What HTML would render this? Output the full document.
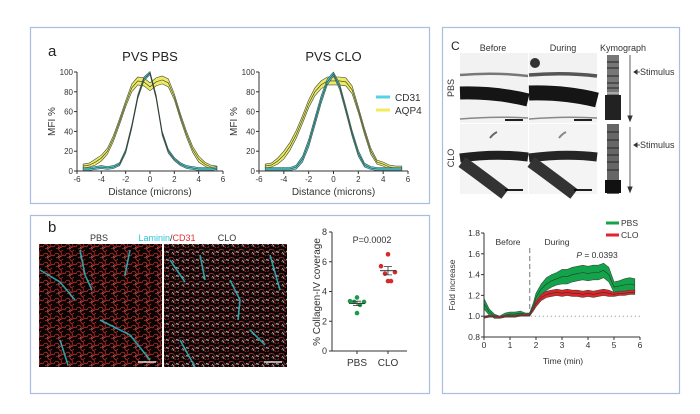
<!DOCTYPE html>
<html><head><meta charset="utf-8">
<style>
html,body{margin:0;padding:0;background:#fff;width:700px;height:414px;overflow:hidden}
svg{display:block;font-family:"Liberation Sans",Arial,sans-serif}
</style></head>
<body>
<svg id="fig" width="700" height="414" viewBox="0 0 700 414" xmlns="http://www.w3.org/2000/svg">
<defs>
<pattern id="vessels" width="11" height="9" patternUnits="userSpaceOnUse">
<rect width="11" height="9" fill="#0a0505"/>
<path d="M0 2 Q3 0 4 3 T8 3 Q10 5 11 2 M1 6 Q3 4 4 7 T8 7 M6 0 Q7 3 5 5" stroke="#d8302c" stroke-width="0.7" fill="none"/>
<path d="M3 4 Q5 5 4 6" stroke="#c9d9dc" stroke-width="0.5" fill="none"/>
</pattern>
<pattern id="vessels2" width="10" height="8" patternUnits="userSpaceOnUse">
<rect width="10" height="8" fill="#080606"/>
<path d="M0 2 Q3 0 4 3 T8 3 Q9 4 10 1 M1 6 Q3 4 5 7 T9 6" stroke="#cf3a36" stroke-width="0.6" fill="none"/>
<path d="M2 4 Q4 5 3 7 M6 3 Q8 5 9 4" stroke="#d5e2e4" stroke-width="0.6" fill="none"/>
</pattern>
</defs>
<rect width="700" height="414" fill="#fff"/>
<rect x="30.5" y="27.5" width="399" height="176" fill="none" stroke="#a7bde3" stroke-width="1.2"/>
<rect x="30.5" y="215.5" width="399" height="178" fill="none" stroke="#a7bde3" stroke-width="1.2"/>
<rect x="442.5" y="27.5" width="237" height="366" fill="none" stroke="#a7bde3" stroke-width="1.2"/>

<text x="48" y="56" font-size="15" fill="#222">a</text>
<text x="48" y="232" font-size="15" fill="#222">b</text>
<text x="451" y="50" font-size="12" fill="#222">C</text>

<g id="plotA1"></g>
<g id="plotA2"></g>

<g>
<line x1="376" y1="97" x2="390" y2="97" stroke="#55d3e6" stroke-width="3"/>
<text x="395" y="101" font-size="10" fill="#333">CD31</text>
<line x1="376" y1="110" x2="390" y2="110" stroke="#f2ec5c" stroke-width="3"/>
<text x="395" y="114" font-size="10" fill="#333">AQP4</text>
</g>

<text x="99" y="241" font-size="9" text-anchor="middle" fill="#333">PBS</text>
<text x="167" y="241" font-size="9" text-anchor="middle"><tspan fill="#2ec4d8">Laminin</tspan><tspan fill="#333">/</tspan><tspan fill="#e0302c">CD31</tspan></text>
<text x="227" y="241" font-size="9" text-anchor="middle" fill="#333">CLO</text>
<g>
<rect x="39" y="244" width="123" height="123" fill="url(#vessels)"/>
<path d="M40 270 L60 282 L75 300 M80 250 L85 275 L92 290 M130 250 L125 275 M100 320 L130 335 L150 360 M60 340 L68 365" stroke="#2fc3cc" stroke-width="1.6" fill="none" opacity="0.8"/>
<line x1="138" y1="362" x2="156" y2="362" stroke="#ddd" stroke-width="1.5"/>
</g>
<g>
<rect x="164" y="244" width="123" height="123" fill="url(#vessels2)"/>
<path d="M170 260 L185 282 M200 255 L205 280 M230 280 L240 300 L238 320 M270 255 L280 290 M180 340 L195 367 M250 330 L265 345" stroke="#2fc3cc" stroke-width="1.6" fill="none" opacity="0.8"/>
<line x1="264" y1="362" x2="282" y2="362" stroke="#ddd" stroke-width="1.5"/>
</g>
<g id="plotB"></g>

<text x="493" y="51" font-size="9" text-anchor="middle" fill="#333">Before</text>
<text x="563" y="51" font-size="9" text-anchor="middle" fill="#333">During</text>
<text x="623" y="51" font-size="9" text-anchor="middle" fill="#333">Kymograph</text>
<text transform="translate(454,88) rotate(-90)" font-size="9" text-anchor="middle" fill="#333">PBS</text>
<text transform="translate(454,158) rotate(-90)" font-size="9" text-anchor="middle" fill="#333">CLO</text>
<g>
<rect x="460" y="53" width="68" height="70" fill="#f2f2f2"/>
<path d="M460 75 Q495 72 528 76" stroke="#777" stroke-width="2.5" fill="none"/>
<path d="M460 93 Q495 92 528 100" stroke="#151515" stroke-width="13" fill="none"/>
<path d="M460 119 Q495 116 528 118" stroke="#888" stroke-width="1.5" fill="none"/>
<line x1="505" y1="120" x2="523" y2="120" stroke="#000" stroke-width="1.8"/>
</g>
<g>
<rect x="529" y="53" width="68" height="70" fill="#f2f2f2"/>
<circle cx="535" cy="63" r="5" fill="#333"/>
<path d="M529 75 Q565 72 597 76" stroke="#555" stroke-width="3.5" fill="none"/>
<path d="M529 93 Q565 92 597 100" stroke="#151515" stroke-width="15" fill="none"/>
<path d="M529 119 Q565 116 597 118" stroke="#888" stroke-width="1.5" fill="none"/>
<line x1="574" y1="120" x2="592" y2="120" stroke="#000" stroke-width="1.8"/>
</g>
<g>
<rect x="460" y="124" width="68" height="70" fill="#f4f4f4"/>
<path d="M460 158 Q495 153 528 157" stroke="#202020" stroke-width="9" fill="none"/>
<path d="M462 162 Q480 175 505 194" stroke="#333" stroke-width="12" fill="none"/>
<path d="M490 138 Q493 134 497 132" stroke="#666" stroke-width="2" fill="none"/>
<line x1="505" y1="190" x2="523" y2="190" stroke="#000" stroke-width="1.8"/>
</g>
<g>
<rect x="529" y="124" width="68" height="70" fill="#f4f4f4"/>
<path d="M529 158 Q565 153 597 157" stroke="#252525" stroke-width="9" fill="none"/>
<path d="M531 162 Q549 175 574 194" stroke="#333" stroke-width="12" fill="none"/>
<path d="M559 138 Q562 134 566 132" stroke="#888" stroke-width="2" fill="none"/>
<line x1="574" y1="190" x2="592" y2="190" stroke="#000" stroke-width="1.8"/>
</g>
<g>
<rect x="607" y="55" width="12" height="65" fill="#777"/>
<rect x="605" y="95" width="16" height="25" fill="#222"/>
<rect x="607" y="124" width="12" height="70" fill="#666"/>
<rect x="605" y="180" width="16" height="13" fill="#111"/>
<path d="M607 62H619M607 68H619M607 76H619M607 83H619M607 88H619M607 132H619M607 140H619M607 148H619M607 155H619M607 162H619M607 170H619" stroke="#333" stroke-width="1.3"/>
<line x1="605" y1="93" x2="624" y2="93" stroke="#fff" stroke-width="0.8"/>
</g>
<g stroke="#333" fill="#333">
<line x1="630" y1="55" x2="630" y2="118" stroke-width="0.8"/>
<path d="M628 116 L630 121 L632 116Z"/>
<line x1="630" y1="127" x2="630" y2="189" stroke-width="0.8"/>
<path d="M628 187 L630 192 L632 187Z"/>
<line x1="634" y1="72" x2="640" y2="72" stroke-width="0.8"/>
<path d="M634 72 L637 70 L637 74Z"/>
<line x1="634" y1="145" x2="640" y2="145" stroke-width="0.8"/>
<path d="M634 145 L637 143 L637 147Z"/>
</g>
<text x="640" y="75" font-size="9" fill="#333">Stimulus</text>
<text x="640" y="148" font-size="9" fill="#333">Stimulus</text>

<g id="plotC"></g>
</svg>
<script>
const distA = [-5.5,-5,-4.5,-4,-3.5,-3,-2.5,-2,-1.5,-1,-0.5,0,0.5,1,1.5,2,2.5,3,3.5,4,4.5,5,5.5];
const pbsAqp4 = [5,6,9,13,20,33,50,68,84,91,90,85,90,92,89,75,55,37,22,12,7,4,3];
const pbsAqp4Err = [2,2,3,3,3,3,3,3,4,4,4,4,4,4,4,3,3,3,3,3,2,2,2];
const pbsCd31 = [2,2,3,4,3,4,7,20,45,75,93,99,75,38,20,12,7,4,3,2,2,2,3];
const pbsCd31Err = [1.5,1.5,1.5,1.5,1.5,1.5,1.5,2,2,2,2,1.5,2,2,2,1.5,1.5,1.5,1.5,1.5,1.5,1.5,1.5];
const cloAqp4 = [5,6,10,16,25,37,52,68,80,87,91,91,91,90,82,62,40,20,9,7,4,3,3];
const cloAqp4Err = [2,2,3,4,4,4,4,4,4,4,4,4,4,4,4,3,3,3,2,2,2,2,2];
const cloCd31 = [2,2,2,2,2,4,12,28,50,72,90,98,85,62,38,18,6,3,2,2,2,2,2];
const cloCd31Err = [1.5,1.5,1.5,1.5,1.5,2,3,4,4,4,3,2,3,3,3,3,2,1.5,1.5,1.5,1.5,1.5,1.5];
const xTicksA = [-6,-4,-2,0,2,4,6];
const yTicksA = [0,20,40,60,80,100];
const groupsB = ["PBS","CLO"];
const pbsPoints = [3.6,3.35,3.3,3.3,3.1,2.55];
const cloPoints = [6.5,5.7,5.3,5.2,4.7,4.7];
const meansB = [3.2,5.4];
const semB = [0.15,0.28];
const yTicksB = [0,2,4,6,8];
const timeC = [0,0.2,0.4,0.6,0.8,1.0,1.2,1.4,1.6,1.75,1.9,2.0,2.2,2.4,2.6,2.8,3.0,3.2,3.4,3.6,3.8,4.0,4.2,4.4,4.6,4.8,5.0,5.2,5.4,5.6,5.8];
const pbsFold = [1.12,1.04,1.0,0.99,1.01,1.02,1.02,1.03,1.02,1.02,1.1,1.18,1.26,1.31,1.34,1.36,1.38,1.38,1.40,1.41,1.42,1.41,1.42,1.42,1.44,1.40,1.28,1.29,1.30,1.31,1.30];
const pbsFoldErr = [0.05,0.03,0.02,0.01,0.02,0.02,0.02,0.02,0.01,0.01,0.03,0.04,0.05,0.06,0.06,0.06,0.07,0.07,0.07,0.07,0.07,0.07,0.07,0.07,0.07,0.07,0.05,0.05,0.06,0.06,0.06];
const cloFold = [0.99,1.0,1.0,0.99,1.0,1.0,1.0,1.01,1.01,1.01,1.07,1.12,1.18,1.21,1.22,1.23,1.22,1.23,1.22,1.22,1.21,1.22,1.21,1.22,1.23,1.22,1.21,1.22,1.22,1.23,1.23];
const cloFoldErr = [0.01,0.01,0.01,0.01,0.01,0.01,0.01,0.01,0.01,0.01,0.02,0.03,0.03,0.03,0.03,0.03,0.03,0.03,0.03,0.03,0.03,0.03,0.03,0.03,0.03,0.03,0.02,0.02,0.02,0.02,0.02];
const xTicksC = [0,1,2,3,4,5,6];
const yTicksC = [0.8,1.0,1.2,1.4,1.6,1.8];
const yTickLabelsC = ["0.8","1.0","1.2","1.4","1.6","1.8"];
const stimulusTime = 1.76;

const NS = "http://www.w3.org/2000/svg";
function mk(parent, tag, attrs, text){
  const el = document.createElementNS(NS, tag);
  for (const k in attrs) el.setAttribute(k, attrs[k]);
  if (text !== undefined) el.textContent = text;
  parent.appendChild(el);
  return el;
}
function band(g, xs, ys, es, sx, sy, fill, name){
  let d = "";
  xs.forEach((x,i)=>{ d += (i?"L":"M")+sx(x).toFixed(1)+" "+sy(ys[i]+es[i]).toFixed(1); });
  for (let i=xs.length-1;i>=0;i--) d += "L"+sx(xs[i]).toFixed(1)+" "+sy(ys[i]-es[i]).toFixed(1);
  d += "Z";
  const p = mk(g,"path",{d:d, fill:fill, stroke:"#3c4a3c", "stroke-width":"0.6"});
  
  
  let m = "";
  xs.forEach((x,i)=>{ m += (i?"L":"M")+sx(x).toFixed(1)+" "+sy(ys[i]).toFixed(1); });
  const l = mk(g,"path",{d:m, fill:"none", stroke:"#2a3a2a", "stroke-width":"0.6"});
  
  
}

function plotA(gid, title, aq, aqE, cd, cdE, x0, x1, y0, y1, tx){
  const g = document.getElementById(gid);
  const sx = v => x0 + (v+6)/12*(x1-x0);
  const sy = v => y1 - v/100*(y1-y0);
  const t = mk(g,"text",{x:(x0+x1)/2, y:61, "font-size":"13", "text-anchor":"middle", fill:"#222"}, title);
  
  
  band(g, distA, aq, aqE, sx, sy, "#efe964", "aqp4");
  band(g, distA, cd, cdE, sx, sy, "#4fd0dc", "cd31");
  const ax = mk(g,"path",{d:`M${x0} ${y0} V${y1} H${x1}`, fill:"none", stroke:"#333", "stroke-width":"1"});
  
  
  yTicksA.forEach(v=>{
    mk(g,"line",{x1:x0-3,x2:x0,y1:sy(v),y2:sy(v),stroke:"#333"});
    const tl = mk(g,"text",{x:x0-4,y:sy(v)+3,"font-size":"8","text-anchor":"end",fill:"#333"}, v);
    
    
  });
  xTicksA.forEach(v=>{
    mk(g,"line",{x1:sx(v),x2:sx(v),y1:y1,y2:y1+3,stroke:"#333"});
    const tl = mk(g,"text",{x:sx(v),y:y1+11,"font-size":"8","text-anchor":"middle",fill:"#333"}, v);
    
    
  });
  const xl = mk(g,"text",{x:(x0+x1)/2,y:195,"font-size":"10","text-anchor":"middle",fill:"#333"},"Distance (microns)");
  
  
  const yl = mk(g,"text",{transform:`translate(${tx},${(y0+y1)/2}) rotate(-90)`,"font-size":"10","text-anchor":"middle",fill:"#333"},"MFI %");
  
  
}
plotA("plotA1","PVS PBS",pbsAqp4,pbsAqp4Err,pbsCd31,pbsCd31Err,77,223,72,171,55);
plotA("plotA2","PVS CLO",cloAqp4,cloAqp4Err,cloCd31,cloCd31Err,259,408,72,171,237);

(function(){
  const g = document.getElementById("plotB");
  const x0=332, x1=407, y0=232, y1=351;
  const sy = v => y1 - v/8*(y1-y0);
  const gx = [357,388];
  mk(g,"path",{d:`M${x0} ${y0} V${y1} H${x1}`,fill:"none",stroke:"#333"});
  yTicksB.forEach(v=>{
    mk(g,"line",{x1:x0-3,x2:x0,y1:sy(v),y2:sy(v),stroke:"#333"});
    const tl = mk(g,"text",{x:x0-5,y:sy(v)+3,"font-size":"9","text-anchor":"end",fill:"#333"},v);
    
    
  });
  groupsB.forEach((n,i)=>{
    mk(g,"line",{x1:gx[i],x2:gx[i],y1:y1,y2:y1+3,stroke:"#333"});
    const tl = mk(g,"text",{x:gx[i],y:366,"font-size":"10","text-anchor":"middle",fill:"#333"},n);
    
    
  });
  const offs = [0,-7,7,-3,3,0];
  [pbsPoints,cloPoints].forEach((pts,i)=>{
    const col = i===0 ? "#1a9a4a" : "#d42a2a";
    pts.forEach((v,j)=>{
      const c = mk(g,"circle",{cx:gx[i]+offs[j%offs.length],cy:sy(v),r:2.3,fill:col});
      
      
    });
    const m = mk(g,"line",{x1:gx[i]-8,x2:gx[i]+8,y1:sy(meansB[i]),y2:sy(meansB[i]),stroke:"#333","stroke-width":"1"});
    
    
    mk(g,"path",{d:`M${gx[i]-4} ${sy(meansB[i]+semB[i])}H${gx[i]+4}M${gx[i]} ${sy(meansB[i]+semB[i])}V${sy(meansB[i]-semB[i])}M${gx[i]-4} ${sy(meansB[i]-semB[i])}H${gx[i]+4}`,stroke:"#333",fill:"none","stroke-width":"0.8"});
  });
  const p = mk(g,"text",{x:372,y:243,"font-size":"9","text-anchor":"middle",fill:"#333"},"P=0.0002");
  
  
  const yl = mk(g,"text",{transform:`translate(320,292) rotate(-90)`,"font-size":"10","text-anchor":"middle",fill:"#333"},"% Collagen-IV coverage");
  
  
})();

(function(){
  const g = document.getElementById("plotC");
  const x0=484, x1=640, y0=233, y1=337;
  const sx = v => x0 + v/6*(x1-x0);
  const sy = v => y1 - (v-0.8)/1.0*(y1-y0);
  const dl = mk(g,"line",{x1:sx(1.8),x2:sx(6),y1:sy(1.0),y2:sy(1.0),stroke:"#777","stroke-dasharray":"1 3","stroke-width":"0.9"});
  
  
  const sl = mk(g,"line",{x1:sx(stimulusTime),x2:sx(stimulusTime),y1:248,y2:sy(1.0),stroke:"#777","stroke-dasharray":"5 3","stroke-width":"1"});
  
  
  band(g, timeC, pbsFold, pbsFoldErr, sx, sy, "#13a34b", "pbs");
  band(g, timeC, cloFold, cloFoldErr, sx, sy, "#e3222a", "clo");
  mk(g,"path",{d:`M${x0} ${y0} V${y1} H${x1}`,fill:"none",stroke:"#333"});
  yTicksC.forEach((v,i)=>{
    mk(g,"line",{x1:x0-3,x2:x0,y1:sy(v),y2:sy(v),stroke:"#333"});
    const tl = mk(g,"text",{x:x0-4,y:sy(v)+3,"font-size":"8.5","text-anchor":"end",fill:"#333"},yTickLabelsC[i]);
    
    
  });
  xTicksC.forEach(v=>{
    mk(g,"line",{x1:sx(v),x2:sx(v),y1:y1,y2:y1+3,stroke:"#333"});
    const tl = mk(g,"text",{x:sx(v),y:y1+11,"font-size":"8.5","text-anchor":"middle",fill:"#333"},v);
    
    
  });
  const xl = mk(g,"text",{x:563,y:364,"font-size":"8.5","text-anchor":"middle",fill:"#333"},"Time (min)");
  
  
  const yl = mk(g,"text",{transform:`translate(455,285) rotate(-90)`,"font-size":"8.5","text-anchor":"middle",fill:"#333"},"Fold increase");
  
  
  const b = mk(g,"text",{x:508,y:245,"font-size":"8.5","text-anchor":"middle",fill:"#333"},"Before");
  
  
  const d = mk(g,"text",{x:557,y:245,"font-size":"8.5","text-anchor":"middle",fill:"#333"},"During");
  
  
  const p = mk(g,"text",{x:597,y:258,"font-size":"8.5","text-anchor":"middle",fill:"#333"});
  
  
  mk(p,"tspan",{"font-style":"italic"},"P");
  mk(p,"tspan",{}," = 0.0393");
  const l1 = mk(g,"line",{x1:606,x2:619,y1:223,y2:223,stroke:"#13a34b","stroke-width":"3"});
  
  
  const t1 = mk(g,"text",{x:621,y:226,"font-size":"8.5",fill:"#333"},"PBS");
  
  
  const l2 = mk(g,"line",{x1:606,x2:619,y1:235,y2:235,stroke:"#e3222a","stroke-width":"3"});
  
  
  const t2 = mk(g,"text",{x:621,y:238,"font-size":"8.5",fill:"#333"},"CLO");
  
  
})();
</script>
</body></html>
